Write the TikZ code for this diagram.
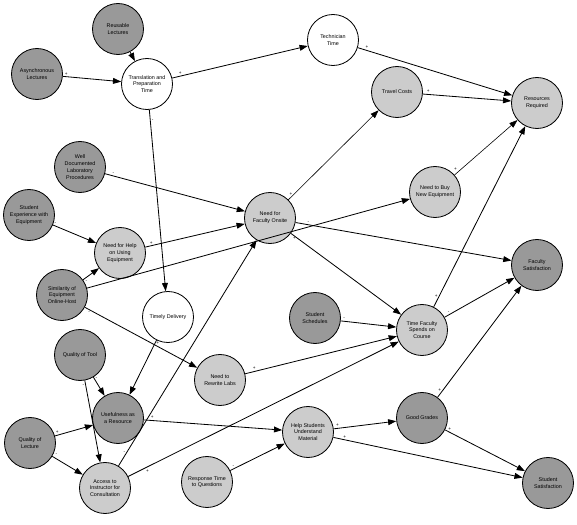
\documentclass[tikz,border=0pt]{standalone}
\usepackage{fontspec}
\setmainfont{Liberation Sans}
\usetikzlibrary{arrows.meta,positioning}
\definecolor{DarkVar}{HTML}{999999}
\definecolor{LightVar}{HTML}{CCCCCC}
\tikzset{
  % Base variable circle
  V/.style={circle,draw=black,line width=0.7pt,
            minimum size=1.53cm,inner sep=0pt,
            text centered,align=center,
            font=\fontsize{4.6}{5.8}\selectfont},
  % Fill variants
  vD/.style={V,fill=DarkVar},
  vL/.style={V,fill=LightVar},
  vW/.style={V,fill=white},
  % Arrow
  arr/.style={-{Triangle[length=7pt,width=5pt]},line width=0.7pt},
  % Sign label
  sg/.style={font=\fontsize{4}{4}\selectfont,inner sep=1pt,pos=0.06}
}
\begin{document}
\begin{tikzpicture}[x=0.03cm,y=-0.03cm]
  \useasboundingbox (0,0) rectangle (577,525);
  % Variables
  \node[vD] (rl)   at (118,29)  {Reusable\\Lectures};
  \node[vD] (asl)  at (37,74)   {Asynchronous\\Lectures};
  \node[vW] (tpt)  at (147,84)  {Translation and\\Preparation\\Time};
  \node[vW] (tt)   at (333,40)  {Technician\\Time};
  \node[vL] (tc)   at (397,92)  {Travel Costs};
  \node[vL] (rr)   at (537,103) {Resources\\Required};
  \node[vL] (nbe)  at (435,192) {Need to Buy\\New Equipment};
  \node[vD] (wdl)  at (80,167)  {Well\\Documented\\Laboratory\\Procedures};
  \node[vD] (sew)  at (29,215)  {Student\\Experience with\\Equipment};
  \node[vL] (nhe)  at (120,253) {Need for Help\\on Using\\Equipment};
  \node[vL] (nfo)  at (270,218) {Need for\\Faculty Onsite};
  \node[vD] (fs)   at (537,265) {Faculty\\Satisfaction};
  \node[vD] (seo)  at (62,295)  {Similarity of\\Equipment\\Online-Host};
  \node[vW] (td)   at (168,317) {Timely Delivery};
  \node[vD] (qt)   at (80,355)  {Quality of Tool};
  \node[vD] (ss)   at (315,318) {Student\\Schedules};
  \node[vL] (nrl)  at (220,380) {Need to\\Rewrite Labs};
  \node[vL] (tfs)  at (422,330) {Time Faculty\\Spends on\\Course};
  \node[vD] (ur)   at (118,418) {Usefulness as\\a Resource};
  \node[vD] (ql)   at (30,443)  {Quality of\\Lecture};
  \node[vL] (aic)  at (105,488) {Access to\\Instructor for\\Consultation};
  \node[vL] (hsu)  at (308,432) {Help Students\\Understand\\Material};
  \node[vL] (rtq)  at (207,482) {Response Time\\to Questions};
  \node[vD] (gg)   at (422,418) {Good Grades};
  \node[vD] (sst)  at (548,483) {Student\\Satisfaction};
  % Links
  \draw[arr] (rl) -- (tpt);
  \draw[arr] (asl) -- node[sg,above]{+} (tpt);
  \draw[arr] (tpt) -- node[sg,above]{+} (tt);
  \draw[arr] (tpt) -- node[sg,right]{-} (td);
  \draw[arr] (tt) -- node[sg,above]{+} (rr);
  \draw[arr] (tc) -- node[sg,above]{+} (rr);
  \draw[arr,line width=0.5pt] (nbe) -- node[sg,above left]{+} (rr);
  \draw[arr] (tfs) -- node[sg,left]{+} (rr);
  \draw[arr,line width=0.5pt] (nfo) -- node[sg,left]{+} (tc);
  \draw[arr] (wdl) -- node[sg,above]{-} (nfo);
  \draw[arr] (nhe) -- node[sg,above]{+} (nfo);
  \draw[arr] (aic) -- node[sg,left]{-} (nfo);
  \draw[arr] (sew) -- node[sg,above]{-} (nhe);
  \draw[arr] (seo) -- (nbe);
  \draw[arr] (seo) -- node[sg,below right]{-} (nhe);
  \draw[arr] (seo) -- node[sg,below left]{-} (nrl);
  \draw[arr] (nfo) -- node[sg,above]{-} (fs);
  \draw[arr] (nfo) -- node[sg,left]{+} (tfs);
  \draw[arr] (tfs) -- node[sg,above]{-} (fs);
  \draw[arr] (gg) -- node[sg,left]{+} (fs);
  \draw[arr] (ss) -- node[sg,above]{-} (tfs);
  \draw[arr] (nrl) -- node[sg,above]{+} (tfs);
  \draw[arr] (aic) -- node[sg,below right]{+} (tfs);
  \draw[arr] (td) -- node[sg,right]{+} (ur);
  \draw[arr] (qt) -- node[sg,right]{-} (ur);
  \draw[arr] (qt) -- node[sg,left]{-} (aic);
  \draw[arr] (ql) -- node[sg,above]{+} (ur);
  \draw[arr] (ql) -- node[sg,above right]{-} (aic);
  \draw[arr] (ur) -- node[sg,above]{+} (hsu);
  \draw[arr] (rtq) -- node[sg,above]{-} (hsu);
  \draw[arr] (hsu) -- node[sg,above]{+} (gg);
  \draw[arr] (hsu) -- node[sg,above]{+} (sst);
  \draw[arr] (gg) -- node[sg,above]{+} (sst);
\end{tikzpicture}
\end{document}
